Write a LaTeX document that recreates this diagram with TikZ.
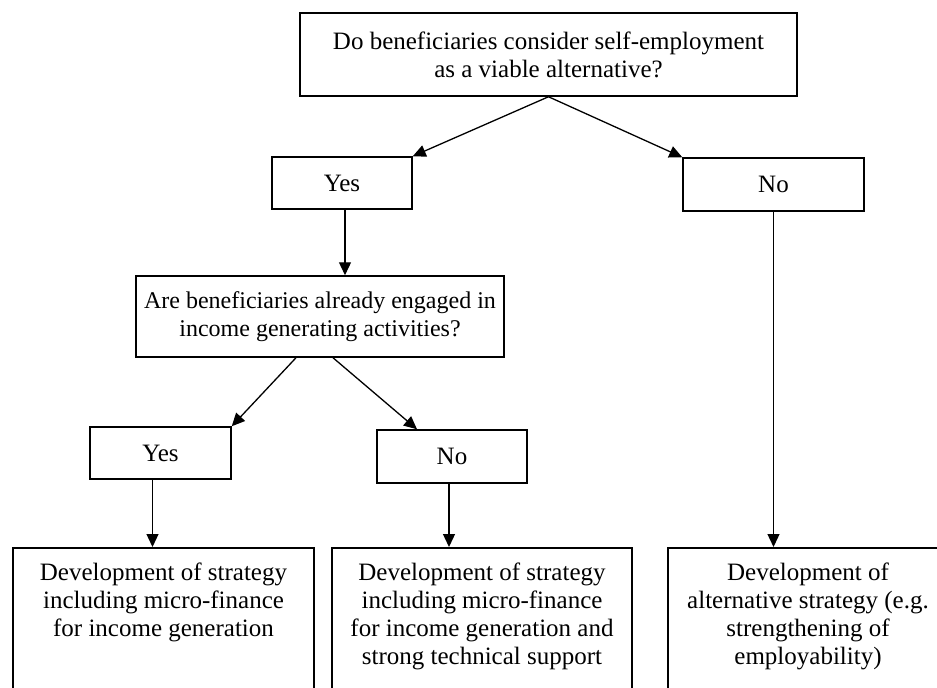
\documentclass[tikz,border=0pt]{standalone}
\usepackage{fontspec}
\setmainfont{Liberation Serif}
\usetikzlibrary{arrows.meta}
\tikzset{
    box/.style={draw, line width=1.5pt, align=center, inner sep=0pt, font=\fontsize{25}{28}\selectfont},
    outbox/.style={draw, line width=1.5pt, anchor=north, inner xsep=0pt, inner ysep=15pt, font=\fontsize{25}{28}\selectfont},
    arr/.style={-{Triangle[length=13pt,width=12pt]}, line width=1.3pt}
}
\begin{document}
\begin{tikzpicture}[x=1pt, y=-1pt]
    \useasboundingbox (0,0) rectangle (937,688);
    \clip (0,0) rectangle (937,688);

    % Questions
    \node[box, minimum width=497pt, minimum height=83pt] (q1) at (548.5,54.5) {Do beneficiaries consider self-employment\\as a viable alternative?};
    \node[box, minimum width=368pt, minimum height=81pt, font=\fontsize{24}{28}\selectfont] (q2) at (320,316.5) {Are beneficiaries already engaged in\\income generating activities?};

    % Answers
    \node[box, minimum width=140pt, minimum height=52pt] (yes1) at (342,183) {Yes};
    \node[box, minimum width=181pt, minimum height=53pt] (no1) at (773.5,184.5) {No};
    \node[box, minimum width=141pt, minimum height=52pt] (yes2) at (160.5,453) {Yes};
    \node[box, minimum width=150pt, minimum height=53pt] (no2) at (452,456.5) {No};

    % Strategies (cut off by the page)
    \node[outbox] (out1) at (163.5,547) {\parbox[c][170pt][t]{301pt}{\centering Development of strategy\\including micro-finance\\for income generation}};
    \node[outbox] (out2) at (482,547) {\parbox[c][170pt][t]{300pt}{\centering Development of strategy\\including micro-finance\\for income generation and\\strong technical support}};
    \node[outbox] (out3) at (808,547) {\parbox[c][170pt][t]{280pt}{\centering Development of\\alternative strategy (e.g.\\strengthening of\\employability)}};

    % Arrows
    \draw[arr] (q1.south) -- (yes1.north east);
    \draw[arr] (q1.south) -- (no1.north west);
    \draw[arr] ([xshift=3pt]yes1.south) -- ([xshift=3pt]yes1.south |- q2.north);
    \draw[arr] ([xshift=-24pt]q2.south) -- (yes2.north east);
    \draw[arr] ([xshift=13pt]q2.south) -- ([xshift=-35pt]no2.north);
    \draw[arr] ([xshift=-8pt]yes2.south) -- ([xshift=-8pt]yes2.south |- out1.north);
    \draw[arr] ([xshift=-3pt]no2.south) -- ([xshift=-3pt]no2.south |- out2.north);
    \draw[arr] (no1.south) -- (no1.south |- out3.north);
\end{tikzpicture}
\end{document}
